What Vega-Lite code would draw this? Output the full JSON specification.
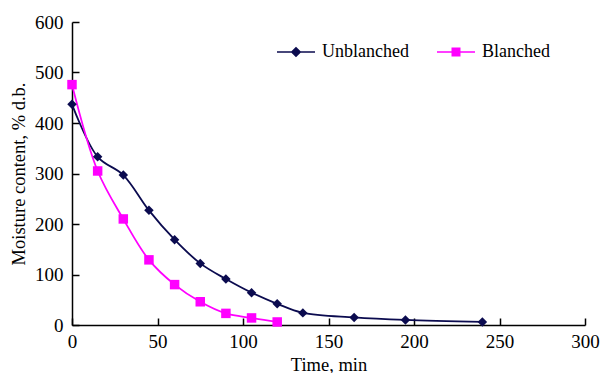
{
  "$schema": "https://vega.github.io/schema/vega-lite/v6.json",
  "width": 513,
  "height": 303,
  "autosize": {"type": "none"},
  "padding": {"left": 72, "top": 22, "right": 18, "bottom": 48},
  "background": "white",
  "config": {
    "view": {"stroke": null},
    "font": "Liberation Serif",
    "axis": {
      "grid": false,
      "domainColor": "black",
      "domainWidth": 1.5,
      "tickColor": "black",
      "tickWidth": 1.5,
      "labelFont": "Liberation Serif",
      "labelFontSize": 19,
      "labelColor": "black",
      "titleFont": "Liberation Serif",
      "titleFontSize": 18.5,
      "titleFontWeight": "normal",
      "titleColor": "black"
    }
  },
  "data": {
    "values": [
      {"time": 0, "moisture": 437, "treatment": "Unblanched"},
      {"time": 15, "moisture": 333, "treatment": "Unblanched"},
      {"time": 30, "moisture": 297, "treatment": "Unblanched"},
      {"time": 45, "moisture": 227, "treatment": "Unblanched"},
      {"time": 60, "moisture": 169, "treatment": "Unblanched"},
      {"time": 75, "moisture": 122, "treatment": "Unblanched"},
      {"time": 90, "moisture": 91, "treatment": "Unblanched"},
      {"time": 105, "moisture": 64, "treatment": "Unblanched"},
      {"time": 120, "moisture": 42, "treatment": "Unblanched"},
      {"time": 135, "moisture": 24, "treatment": "Unblanched"},
      {"time": 165, "moisture": 15, "treatment": "Unblanched"},
      {"time": 195, "moisture": 10, "treatment": "Unblanched"},
      {"time": 240, "moisture": 6, "treatment": "Unblanched"},
      {"time": 0, "moisture": 476, "treatment": "Blanched"},
      {"time": 15, "moisture": 305, "treatment": "Blanched"},
      {"time": 30, "moisture": 210, "treatment": "Blanched"},
      {"time": 45, "moisture": 129, "treatment": "Blanched"},
      {"time": 60, "moisture": 80, "treatment": "Blanched"},
      {"time": 75, "moisture": 46, "treatment": "Blanched"},
      {"time": 90, "moisture": 23, "treatment": "Blanched"},
      {"time": 105, "moisture": 14, "treatment": "Blanched"},
      {"time": 120, "moisture": 6, "treatment": "Blanched"}
    ]
  },
  "encoding": {
    "x": {
      "field": "time", "type": "quantitative",
      "scale": {"domain": [0, 300], "nice": false},
      "axis": {"title": "Time, min", "values": [0, 50, 100, 150, 200, 250, 300], "tickSize": -7, "labelPadding": 14, "titlePadding": 4, "labelFlush": false}
    },
    "y": {
      "field": "moisture", "type": "quantitative",
      "scale": {"domain": [0, 600], "nice": false},
      "axis": {"title": "Moisture content, % d.b.", "values": [0, 100, 200, 300, 400, 500, 600], "tickSize": -7, "labelPadding": 16, "titlePadding": 6, "labelFlush": false}
    },
    "color": {
      "field": "treatment", "type": "nominal",
      "scale": {"range": ["#ff00ff", "#0b0b4f"]},
      "legend": null
    }
  },
  "layer": [
    {
      "mark": {"type": "line", "interpolate": "catmull-rom", "strokeWidth": 1.8},
      "encoding": {
        "opacity": {
          "field": "treatment", "type": "ordinal",
          "scale": {"domain": ["Unblanched", "Blanched"], "range": [1, 1]},
          "legend": {
            "title": null,
            "orient": "none",
            "legendX": 215,
            "legendY": 21,
            "direction": "horizontal",
            "symbolSize": 100,
            "symbolStrokeWidth": 1.5,
            "labelFont": "Liberation Serif",
            "labelFontSize": 18,
            "labelColor": "black",
            "labelOffset": 17,
            "columnPadding": 25,
            "encode": {
              "symbols": {
                "update": {
                  "shape": {"signal": "datum.value === 'Unblanched' ? 'M-3.8,0L3.8,0M0,-0.85L0.85,0L0,0.85L-0.85,0Z' : 'M-3.8,0L3.8,0M-0.75,-0.75L0.75,-0.75L0.75,0.75L-0.75,0.75Z'"},
                  "fill": {"signal": "datum.value === 'Unblanched' ? '#0b0b4f' : '#ff00ff'"},
                  "fillOpacity": {"value": 1},
                  "stroke": {"signal": "datum.value === 'Unblanched' ? '#0b0b4f' : '#ff00ff'"},
                  "strokeOpacity": {"value": 1},
                  "strokeWidth": {"value": 1.5}
                }
              }
            }
          }
        }
      }
    },
    {
      "mark": {"type": "point", "filled": true, "opacity": 1},
      "encoding": {
        "shape": {
          "field": "treatment", "type": "nominal",
          "scale": {"range": ["square", "diamond"]},
          "legend": null
        },
        "size": {"value": 90}
      }
    }
  ]
}
